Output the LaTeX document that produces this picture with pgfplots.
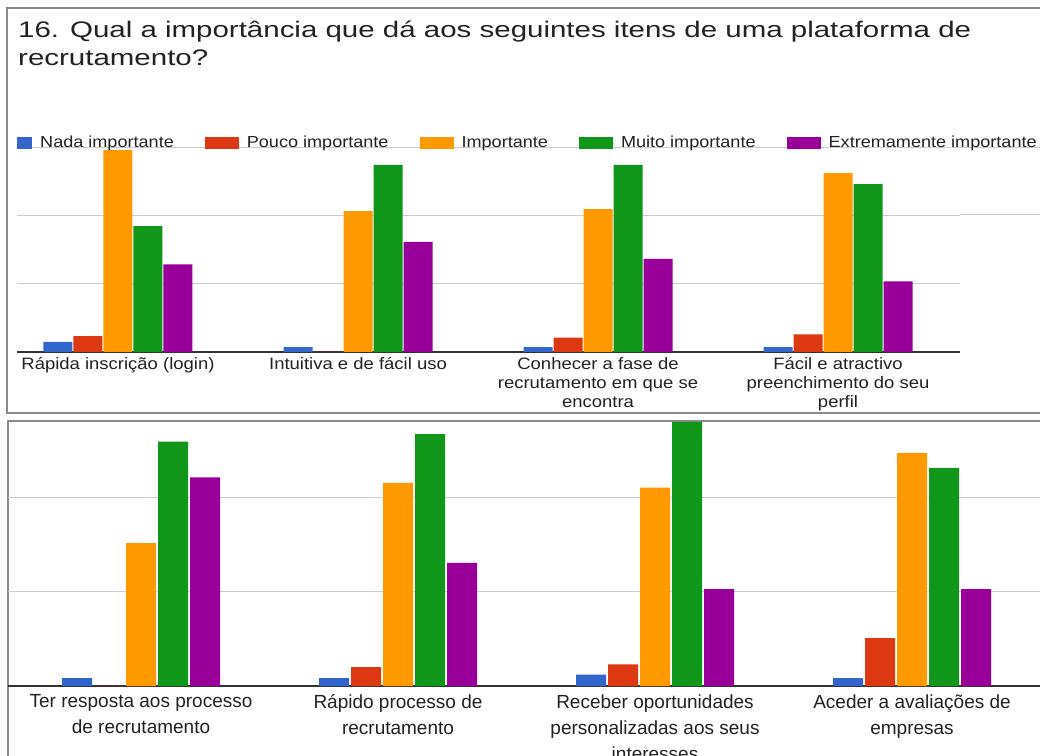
\documentclass[border=0pt]{standalone}
\usepackage{pgfplots}
\pgfplotsset{compat=1.18}
\usepackage{pgfplotstable}
\usepackage{fontspec}
\setmainfont{Liberation Sans}
\newfontfamily\titlefont[FakeStretch=1.31]{Liberation Sans}
\newfontfamily\legfont[FakeStretch=1.13]{Liberation Sans}
\newfontfamily\toplabfont[FakeStretch=1.12]{Liberation Sans}
\definecolor{cblue}{HTML}{3366CC}
\definecolor{cred}{HTML}{DC3912}
\definecolor{corange}{HTML}{FF9900}
\definecolor{cgreen}{HTML}{109618}
\definecolor{cpurple}{HTML}{990099}
\definecolor{gridc}{HTML}{CCCCCC}
\definecolor{framec}{HTML}{8A8A8A}
\definecolor{txt}{HTML}{222222}
\definecolor{basec}{HTML}{333333}

\pgfplotstableread{
x nada pouco imp muito extr
0 1.5 2.35 29.7 18.5 12.9
1 0.7 0 20.7 27.5 16.2
2 0.7 2.1 21.0 27.5 13.7
3 0.7 2.6 26.3 24.7 10.4
}\toptable

\pgfplotstableread{
x nada pouco imp muito extr
0 0.85 0 15.2 26.0 22.2
1 0.85 2.0 21.6 26.8 13.1
2 1.2 2.3 21.1 28.1 10.3
3 0.85 5.1 24.8 23.2 10.3
}\bottable

\begin{document}
\begin{tikzpicture}
\path[use as bounding box] (0pt,0pt) rectangle (1040pt,755pt);
\clip (0pt,0pt) rectangle (1040pt,755pt);
\fill[white] (0pt,0pt) rectangle (1040pt,755pt);

% frames
\draw[framec, line width=2pt] (1050pt,747pt) -- (7pt,747pt) -- (7pt,342pt) -- (1050pt,342pt);
\draw[framec, line width=2pt] (1050pt,334pt) -- (8pt,334pt) -- (8pt,-10pt);

% gridline remnants to the right of the upper chart area
\draw[gridc, line width=1pt] (960pt,607pt) -- (1040pt,607pt);
\draw[gridc, line width=1pt] (960pt,540.5pt) -- (1040pt,540.5pt);

% title
\node[anchor=base west, inner sep=0pt, text=txt, font=\titlefont\fontsize{22.5}{28}\selectfont] at (18pt,717.5pt) {16. Qual a importância que dá aos seguintes itens de uma plataforma de};
\node[anchor=base west, inner sep=0pt, text=txt, font=\titlefont\fontsize{22.5}{28}\selectfont] at (18pt,689pt) {recrutamento?};

\begin{axis}[
  at={(17pt,403pt)}, anchor=south west, scale only axis,
  width=943pt, height=204pt,
  ymin=0, ymax=30, xmin=-0.4208, xmax=3.5083,
  ybar=1pt, bar width=29pt,
  axis line style={draw=none}, major tick length=0pt,
  ytick={10,20,30}, yticklabels={}, ymajorgrids,
  grid style={gridc, line width=1pt},
  extra y ticks={0}, extra y tick labels={},
  extra y tick style={grid style={basec, line width=1.5pt}},
  xtick={0,1,2,3},
  xticklabels={{Rápida inscrição (login)},{Intuitiva e de fácil uso},{Conhecer a fase de\\recrutamento em que se\\encontra},{Fácil e atractivo\\preenchimento do seu\\perfil}},
  xticklabel style={font=\toplabfont\fontsize{16.5}{19}\selectfont, align=center, text=txt, yshift=-2pt},
  legend style={at={(0,1.0245)}, anchor=west, draw=none, fill=none, inner sep=0pt,
    legend columns=5, font=\legfont\fontsize{16}{18}\selectfont, text=txt,
    /tikz/every even column/.append style={column sep=29pt, text height=11.5pt, text depth=3.5pt}},
  legend cell align=left,
]
\addplot[fill=cblue, draw=none, legend image code/.code={\fill[cblue] (0pt,-6pt) rectangle (15pt,6pt); \path (21pt,0pt);}] table[x=x,y=nada]{\toptable};
\addplot[fill=cred, draw=none, legend image code/.code={\fill[cred] (0pt,-6pt) rectangle (34pt,6pt); \path (40pt,0pt);}] table[x=x,y=pouco]{\toptable};
\addplot[fill=corange, draw=none, legend image code/.code={\fill[corange] (0pt,-6pt) rectangle (34pt,6pt); \path (40pt,0pt);}] table[x=x,y=imp]{\toptable};
\addplot[fill=cgreen, draw=none, legend image code/.code={\fill[cgreen] (0pt,-6pt) rectangle (34pt,6pt); \path (40pt,0pt);}] table[x=x,y=muito]{\toptable};
\addplot[fill=cpurple, draw=none, legend image code/.code={\fill[cpurple] (0pt,-6pt) rectangle (34pt,6pt); \path (40pt,0pt);}] table[x=x,y=extr]{\toptable};
\legend{Nada importante, Pouco importante, Importante, Muito importante, Extremamente importante}
\end{axis}

\begin{axis}[
  at={(8pt,69pt)}, anchor=south west, scale only axis,
  width=1032pt, height=265pt,
  ymin=0, ymax=28.19, xmin=-0.5175, xmax=3.498,
  ybar=2pt, bar width=30pt,
  axis line style={draw=none}, major tick length=0pt,
  ytick={10,20}, yticklabels={}, ymajorgrids,
  grid style={gridc, line width=1pt},
  extra y ticks={0}, extra y tick labels={},
  extra y tick style={grid style={basec, line width=1.5pt}},
  xtick={0,1,2,3},
  xticklabels={{Ter resposta aos processo\\de recrutamento},{Rápido processo de\\recrutamento},{Receber oportunidades\\personalizadas aos seus\\interesses},{Aceder a avaliações de\\empresas}},
  xticklabel style={font=\fontsize{19}{26}\selectfont, align=center, text=txt, yshift=-5pt},
]
\addplot[fill=cblue, draw=none] table[x=x,y=nada]{\bottable};
\addplot[fill=cred, draw=none] table[x=x,y=pouco]{\bottable};
\addplot[fill=corange, draw=none] table[x=x,y=imp]{\bottable};
\addplot[fill=cgreen, draw=none] table[x=x,y=muito]{\bottable};
\addplot[fill=cpurple, draw=none] table[x=x,y=extr]{\bottable};
\end{axis}
\end{tikzpicture}
\end{document}
